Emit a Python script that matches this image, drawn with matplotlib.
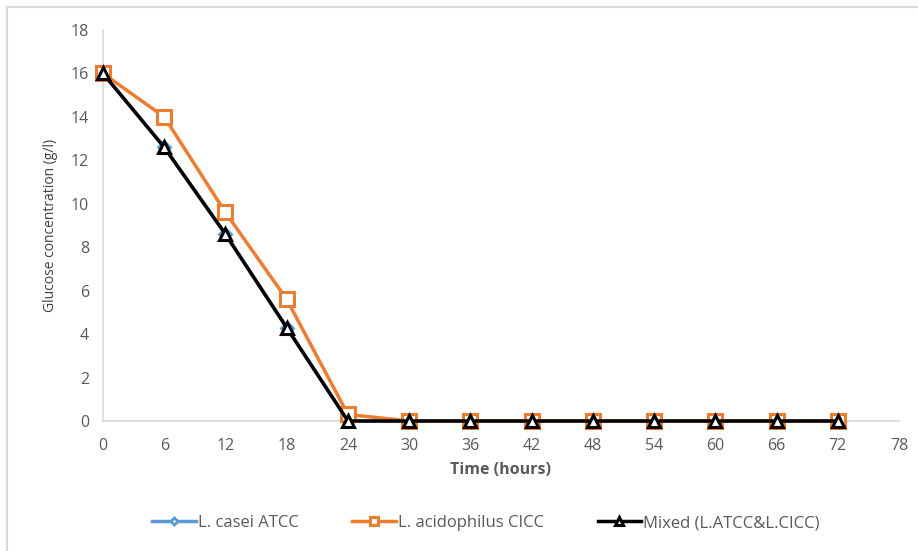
import matplotlib
matplotlib.use("Agg")
import matplotlib.pyplot as plt
from matplotlib.patches import Rectangle

hours = [0, 6, 12, 18, 24, 30, 36, 42, 48, 54, 60, 66, 72]
casei = [16, 12.6, 8.6, 4.3, 0, 0, 0, 0, 0, 0, 0, 0, 0]
acidophilus = [16, 14.0, 9.6, 5.6, 0.3, 0, 0, 0, 0, 0, 0, 0, 0]
mixed = [16, 12.6, 8.6, 4.3, 0, 0, 0, 0, 0, 0, 0, 0, 0]
xticks = list(range(0, 79, 6))
yticks = list(range(0, 19, 2))

plt.rcParams['font.family'] = ['Open Sans', 'DejaVu Sans']

fig = plt.figure(figsize=(9.18, 5.51), dpi=100)
ax = fig.add_axes([103/918, 1-421/551, (899-103)/918, (421-30)/551])

fig.patches.append(Rectangle((7/918, -0.1), 1.2, 1 - 7/551 + 0.1, transform=fig.transFigure,
                             fill=False, edgecolor='#d9d9d9', linewidth=1.5))

l1, = ax.plot(hours, casei, color='#5b9bd5', lw=2.5, marker='D', ms=6,
              mfc='white', mec='#5b9bd5', mew=2, label='L. casei ATCC', zorder=3, clip_on=False)
l2, = ax.plot(hours, acidophilus, color='#ed7d31', lw=2.5, marker='s', ms=10,
              mfc='white', mec='#ed7d31', mew=2.2, label='L. acidophilus CICC', zorder=4, clip_on=False)
l3, = ax.plot(hours, mixed, color='black', lw=2.5, marker='^', ms=9,
              mfc='white', mec='black', mew=2.2, label='Mixed (L.ATCC&L.CICC)', zorder=5, clip_on=False)

ax.set_xlim(0, 78)
ax.set_ylim(0, 18)
ax.set_xticks(xticks)
ax.set_yticks(yticks)
ax.tick_params(length=0, labelsize=11.5, colors='#595959')
ax.tick_params(axis='x', pad=12)
ax.tick_params(axis='y', pad=10)
for s in ['top', 'right']:
    ax.spines[s].set_visible(False)
for s in ['left', 'bottom']:
    ax.spines[s].set_color('#d9d9d9')
    ax.spines[s].set_linewidth(1.2)
    ax.spines[s].set_zorder(1)

ax.set_xlabel('Time (hours)', fontsize=11.5, fontweight='bold', color='#595959', labelpad=6)
ax.set_ylabel('Glucose concentration (g/l)', fontsize=10, color='#404040', labelpad=9)

leg = fig.legend(handles=[l1, l2, l3], loc='center', bbox_to_anchor=(486/918, 1-523/551), ncol=3,
                 frameon=False, fontsize=12, handlelength=2.6, handletextpad=0.15,
                 columnspacing=3.2, labelcolor='#595959', markerscale=0.6)

fig.savefig('out.png', dpi=100)
